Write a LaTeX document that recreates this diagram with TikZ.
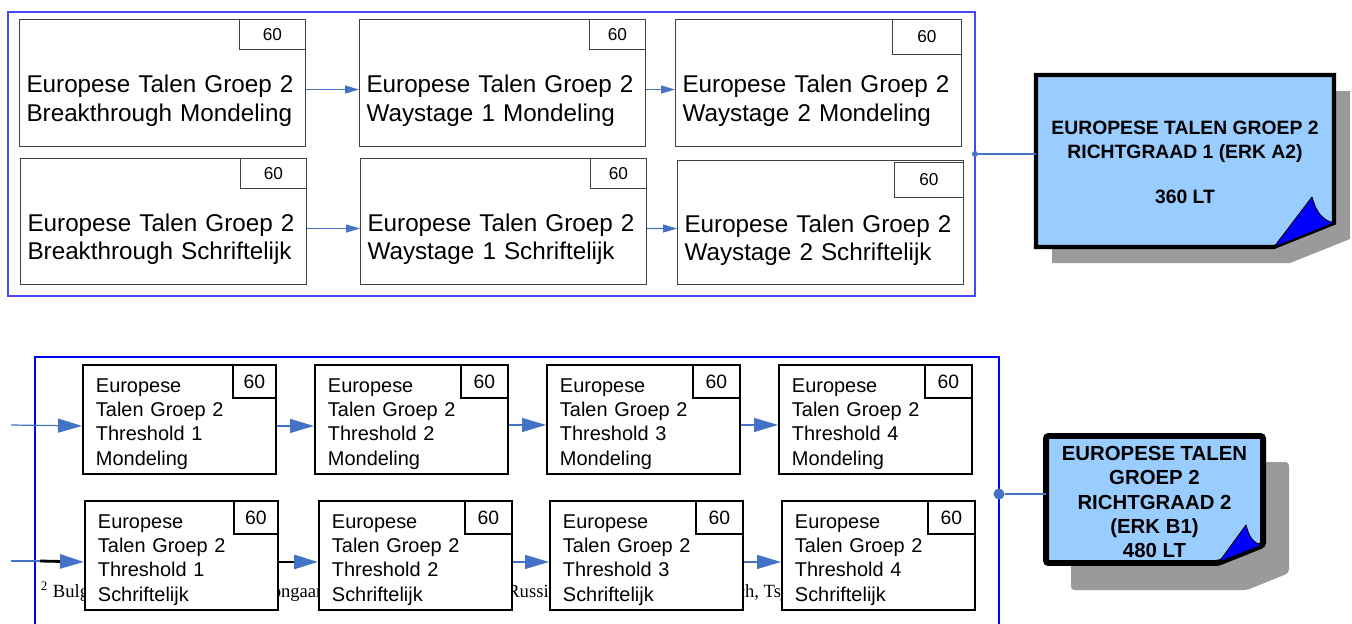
\documentclass[tikz,border=0pt]{standalone}
\usepackage{fontspec}
\setmainfont{Liberation Sans}
\newfontfamily\fnserif{Liberation Serif}
\usetikzlibrary{arrows.meta}
\usepackage{xcolor}
\definecolor{arrowblue}{RGB}{68,114,196}
\definecolor{paperblue}{RGB}{153,204,255}
\definecolor{shadowgray}{RGB}{154,154,154}
\definecolor{framelight}{RGB}{72,72,250}

\begin{document}
\begin{tikzpicture}[
        x=0.02cm, y=-0.02cm,
        topbox/.style={rectangle, draw=black!75, line width=0.6pt, fill=white, anchor=north west, minimum width=5.72cm, minimum height=2.54cm, inner xsep=0.14cm, inner ysep=0pt, text width=5.44cm, align=left, font=\fontsize{13.8}{16.4}\selectfont, text height=31.2pt, text depth=20.4pt},
        topcredit/.style={rectangle, draw=black!75, line width=0.6pt, fill=white, anchor=north east, minimum width=1.32cm, minimum height=0.6cm, inner sep=0pt, font=\fontsize{9.8}{12}\selectfont},
        botbox/.style={rectangle, draw=black, line width=1.1pt, fill=white, anchor=north west, minimum width=3.86cm, minimum height=2.18cm, inner xsep=0.26cm, inner ysep=0pt, text width=3.34cm, align=left, font=\fontsize{11.35}{13.9}\selectfont, text height=13.3pt, text depth=44.5pt},
        botcredit/.style={rectangle, draw=black, line width=1.1pt, fill=white, anchor=north east, minimum width=0.94cm, minimum height=0.66cm, inner sep=0pt, font=\fontsize{11}{13}\selectfont},
        arrow/.style={draw=arrowblue, line width=0.6pt, -{Triangle[length=0.28cm, width=0.16cm]}},
        bigarrow/.style={draw=arrowblue, line width=0.7pt, -{Triangle[length=0.48cm, width=0.28cm]}},
        darkarrow/.style={draw=black, line width=1.6pt, -{Triangle[length=0.48cm, width=0.28cm, color=arrowblue]}},
        link/.style={draw=arrowblue, line width=0.6pt},
        joint/.style={circle, fill=arrowblue, inner sep=0pt, minimum size=0.12cm},
        sheet/.style={rectangle, inner sep=0pt, align=center},
        curl/.style={fill=blue, draw=black, line width=0.5pt, line join=round}
    ]
        \clip (0,0) rectangle (1352,623);

        % Frames
        \draw[framelight, line width=0.9pt] (8,12) rectangle (975,296);
        \draw[blue, line width=1.2pt] (35,640) -- (35,357) -- (999,357) -- (999,640);

        % Footnote of the page, behind the lower boxes
        \node (fn) [anchor=base west, inner sep=0pt, font=\fnserif\fontsize{10.6}{13}\selectfont] at (40.5,597) {\makebox[4.35cm][l]{\textsuperscript{2} Bulgaars, Catalaans, Duits, }\makebox[4.98cm][l]{Hongaars, Italiaans, Lets, Pools, }\makebox[3.66cm][l]{Russisch, Slowaaks, }Servisch, Tsjechisch};

        % Nodes, Richtgraad 1
        \node (bm) [topbox] at (19,19) {Europese Talen Groep 2\\Breakthrough Mondeling};
        \node (bm60) [topcredit] at (bm.north east) {60};
        \node (w1m) [topbox] at (359,19) {Europese Talen Groep 2\\Waystage 1 Mondeling};
        \node (w1m60) [topcredit, minimum width=1.12cm] at (w1m.north east) {60};
        \node (w2m) [topbox] at (675,19) {Europese Talen Groep 2\\Waystage 2 Mondeling};
        \node (w2m60) [topcredit, minimum width=1.38cm, minimum height=0.7cm] at (w2m.north east) {60};
        \node (bs) [topbox, minimum height=2.52cm] at (20,158) {Europese Talen Groep 2\\Breakthrough Schriftelijk};
        \node (bs60) [topcredit] at (bs.north east) {60};
        \node (w1s) [topbox, minimum height=2.52cm] at (360,158) {Europese Talen Groep 2\\Waystage 1 Schriftelijk};
        \node (w1s60) [topcredit, minimum width=1.12cm] at (w1s.north east) {60};
        \node (w2s) [topbox, minimum height=2.48cm] at (677,160) {Europese Talen Groep 2\\Waystage 2 Schriftelijk};
        \node (w2s60) [topcredit, minimum width=1.38cm, minimum height=0.7cm] at ([yshift=-0.04cm]w2s.north east) {60};

        % Nodes, Richtgraad 2
        \node (t1m) [botbox] at (82,364) {Europese\\Talen Groep 2\\Threshold 1\\Mondeling};
        \node (t1m60) [botcredit, minimum width=0.86cm] at (t1m.north east) {60};
        \node (t2m) [botbox] at (314,364) {Europese\\Talen Groep 2\\Threshold 2\\Mondeling};
        \node (t2m60) [botcredit] at (t2m.north east) {60};
        \node (t3m) [botbox] at (546,364) {Europese\\Talen Groep 2\\Threshold 3\\Mondeling};
        \node (t3m60) [botcredit] at (t3m.north east) {60};
        \node (t4m) [botbox] at (778,364) {Europese\\Talen Groep 2\\Threshold 4\\Mondeling};
        \node (t4m60) [botcredit] at (t4m.north east) {60};
        \node (t1s) [botbox] at (84,500) {Europese\\Talen Groep 2\\Threshold 1\\Schriftelijk};
        \node (t1s60) [botcredit, minimum width=0.88cm] at (t1s.north east) {60};
        \node (t2s) [botbox] at (318,500) {Europese\\Talen Groep 2\\Threshold 2\\Schriftelijk};
        \node (t2s60) [botcredit] at (t2s.north east) {60};
        \node (t3s) [botbox] at (549,500) {Europese\\Talen Groep 2\\Threshold 3\\Schriftelijk};
        \node (t3s60) [botcredit] at (t3s.north east) {60};
        \node (t4s) [botbox] at (781,500) {Europese\\Talen Groep 2\\Threshold 4\\Schriftelijk};
        \node (t4s60) [botcredit] at (t4s.north east) {60};

        % Arrows
        \draw [arrow] ([yshift=-0.13cm]bm.east) -- ([yshift=-0.13cm]w1m.west);
        \draw [arrow] ([yshift=-0.13cm]w1m.east) -- ([yshift=-0.13cm]w2m.west);
        \draw [arrow] ([yshift=-0.14cm]bs.east) -- ([yshift=-0.14cm]w1s.west);
        \draw [arrow] ([yshift=-0.14cm]w1s.east) -- ([yshift=-0.12cm]w2s.west);

        \coordinate (inm) at (11,425);
        \coordinate (ins) at (11,561);
        \coordinate (insb) at (40,561);
        \draw [bigarrow] (inm) -- ([yshift=-0.13cm]t1m.west);
        \draw [bigarrow] ([yshift=-0.13cm]t1m.east) -- ([yshift=-0.13cm]t2m.west);
        \draw [bigarrow] ([yshift=-0.11cm]t2m.east) -- ([yshift=-0.11cm]t3m.west);
        \draw [bigarrow] ([yshift=-0.11cm]t3m.east) -- ([yshift=-0.11cm]t4m.west);
        \draw [link] (ins) -- (insb);
        \draw [darkarrow] (insb) -- ([yshift=-0.13cm]t1s.west);
        \draw [darkarrow] ([yshift=-0.13cm]t1s.east) -- ([yshift=-0.13cm]t2s.west);
        \draw [bigarrow] ([yshift=-0.13cm]t2s.east) -- ([yshift=-0.13cm]t3s.west);
        \draw [bigarrow] ([yshift=-0.13cm]t3s.east) -- ([yshift=-0.13cm]t4s.west);

        % Richtgraad sheets
        \fill[shadowgray] (1052,91) -- (1350,91) -- (1350,239) -- (1290,263) -- (1052,263) -- cycle;
        \fill[paperblue] (1036,75) -- (1334,75) -- (1334,223) -- (1274,247) -- (1036,247) -- cycle;
        \node (rg1) [sheet, minimum width=5.96cm, minimum height=3.44cm, font=\bfseries\fontsize{11}{14.2}\selectfont] at (1185,162) {EUROPESE TALEN GROEP 2\\RICHTGRAAD 1 (ERK A2)\\[11pt]360 LT};
        \draw[line width=2.3pt] (1036,75) -- (1334,75) -- (1334,223) -- (1274,247) -- (1036,247) -- cycle;
        \filldraw[curl] (1274,247) -- (1312,197) .. controls (1316,212) and (1322,220) .. (1334,223) -- cycle;

        \fill[shadowgray, rounded corners=2pt] (1071,462) -- (1289,462) -- (1289,573) -- (1247,590) -- (1071,590) -- cycle;
        \fill[paperblue] (1046,436) -- (1263,436) -- (1263,545) -- (1218,563) -- (1046,563) -- cycle;
        \node (rg2) [sheet, minimum width=4.34cm, minimum height=2.54cm, font=\bfseries\fontsize{11.6}{13.9}\selectfont] at (1154.5,502) {EUROPESE TALEN\\GROEP 2\\RICHTGRAAD 2\\(ERK B1)\\480 LT};
        \draw[line width=3.4pt, rounded corners=1.5pt] (1046,436) -- (1263,436) -- (1263,545) -- (1218,563) -- (1046,563) -- cycle;
        \filldraw[curl] (1219,562) -- (1246,525) .. controls (1249,537) and (1253,543) .. (1262,545) -- cycle;

        % Links to the sheets
        \node (j1) [joint] at (975,154) {};
        \node (j2) [joint, minimum size=0.22cm] at (999,494) {};
        \draw [link] (j1) -- (j1 -| rg1.west);
        \draw [link] (j2) -- (j2 -| rg2.west);
    \end{tikzpicture}
\end{document}
